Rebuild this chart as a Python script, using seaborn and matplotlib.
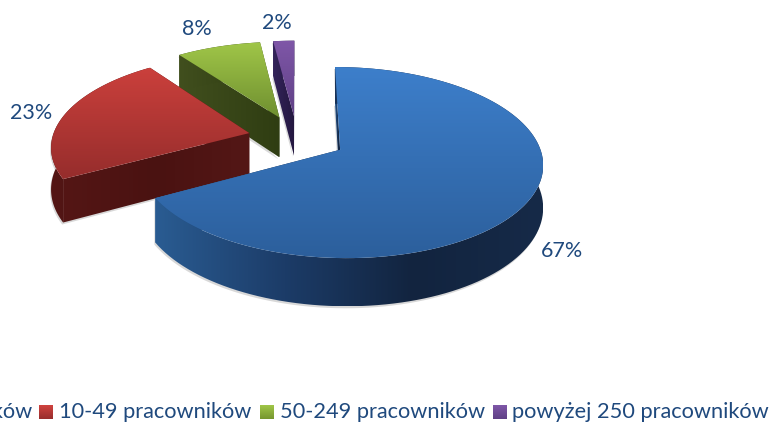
# 3D exploded pie drawn with seaborn palettes on a pixel-sized axes
import numpy as np
import seaborn as sns
import matplotlib.pyplot as plt
from matplotlib.patches import Polygon

# Data
labels = ['1-9 pracowników', '10-49 pracowników', '50-249 pracowników', 'powyżej 250 pracowników']
values = [67, 23, 8, 2]
pct_labels = ['67%', '23%', '8%', '2%']

# Colours: top face gradient (top to bottom), side gradient (left to right)
top_colors = [['#3D7FCB', '#2C5F9C'], ['#CB403C', '#962D2C'], ['#A0C648', '#6F8F30'], ['#7F57A8', '#5F4085']]
side_colors = [['#2A5C92', '#1C3C68', '#12243F', '#162A48'], ['#541615', '#4A1211', '#541716'],
               ['#414F1E', '#2F3D12'], ['#33235A', '#241840']]
legend_colors = [['#3D7FCB', '#2C5F9C'], ['#D0433F', '#982E2D'], ['#A0C648', '#76962F'], ['#7F57A8', '#5F4085']]
text_color = '#1F497D'

# Layout in pixels
X0, Y0 = 297, 138
RX, RY = 197, 90.7
K = 0.132
DEPTH = 41
EXPLODE = 0.25
pct_pos = [(562, 251), (31, 113), (197, 29), (277, 23)]
legend_boxes = [None, 39, 260, 493]
legend_text = [32, 59, 280, 512]

sns.set_theme(style='white')
plt.rcParams['font.family'] = ['Lato', 'DejaVu Sans']

fig = plt.figure(figsize=(7.71, 4.23), dpi=100)
ax = fig.add_axes([0, 0, 1, 1])
ax.set_xlim(0, 771)
ax.set_ylim(423, 0)
ax.axis('off')
order = [0]


def project(u, v, down=False):
    s = 1 / (1 - K * v)
    x = X0 + RX * u * s
    y = Y0 + RY * v * s
    if down:
        y = y + DEPTH * s
    return np.column_stack([x, y])


def fill(poly, colors, vertical):
    # gradient image clipped to the polygon
    order[0] += 1
    x0, y0 = poly.min(axis=0)
    x1, y1 = poly.max(axis=0)
    cmap = sns.blend_palette(colors, as_cmap=True)
    grad = np.linspace(0, 1, 256)
    grad = grad.reshape(-1, 1) if vertical else grad.reshape(1, -1)
    im = ax.imshow(grad, cmap=cmap, extent=(x0, x1, y1, y0), aspect='auto', zorder=order[0], interpolation='bilinear')
    clip = Polygon(poly, closed=True, transform=ax.transData)
    im.set_clip_path(clip)


def shadow(poly):
    order[0] += 1
    ax.add_patch(Polygon(poly + [-1, 2], closed=True, fc='#808080', ec='none', alpha=0.3, zorder=order[0]))


# slice angles, clockwise from 12 o'clock
edges = np.cumsum([0] + values) / sum(values) * 2 * np.pi
slices = []
for i in range(len(values)):
    a, b = edges[i], edges[i + 1]
    mid = (a + b) / 2
    t = np.linspace(a, b, 120)
    cu, cv = EXPLODE * np.sin(mid), -EXPLODE * np.cos(mid)
    slices.append((i, a, b, t, cu, cv))

# back slices first, blue last
for i, a, b, t, cu, cv in reversed(slices):
    au, av = cu + np.sin(t), cv - np.cos(t)
    apex_top = project(np.array([cu]), np.array([cv]))
    apex_low = project(np.array([cu]), np.array([cv]), down=True)
    arc_top = project(au, av)
    arc_low = project(au, av, down=True)

    rim = np.vstack([arc_top, arc_low[::-1]])
    cut_a = np.vstack([apex_top, arc_top[:1], arc_low[:1], apex_low])
    cut_b = np.vstack([apex_top, arc_top[-1:], arc_low[-1:], apex_low])
    top = np.vstack([apex_top, arc_top])

    shadow(np.vstack([rim, apex_low]))
    fill(cut_b, side_colors[i], False)
    fill(cut_a, side_colors[i], False)
    fill(rim, side_colors[i], False)
    fill(top, top_colors[i], True)

order[0] += 1
for txt, (x, y) in zip(pct_labels, pct_pos):
    ax.text(x, y, txt, color=text_color, fontsize=15.5, ha='center', va='center', zorder=order[0])

# Legend, its first entry runs off the left edge of the picture
for i, lab in enumerate(labels):
    ax.text(legend_text[i], 412, lab, color=text_color, fontsize=15.7, ha='right' if i == 0 else 'left',
            va='center', zorder=order[0])
    if legend_boxes[i] is not None:
        x = legend_boxes[i]
        box = np.array([[x, 405], [x + 14, 405], [x + 14, 419], [x, 419]])
        fill(box, legend_colors[i], True)

ax.set_xlim(0, 771)
ax.set_ylim(423, 0)
fig.savefig('out.png', dpi=100)
